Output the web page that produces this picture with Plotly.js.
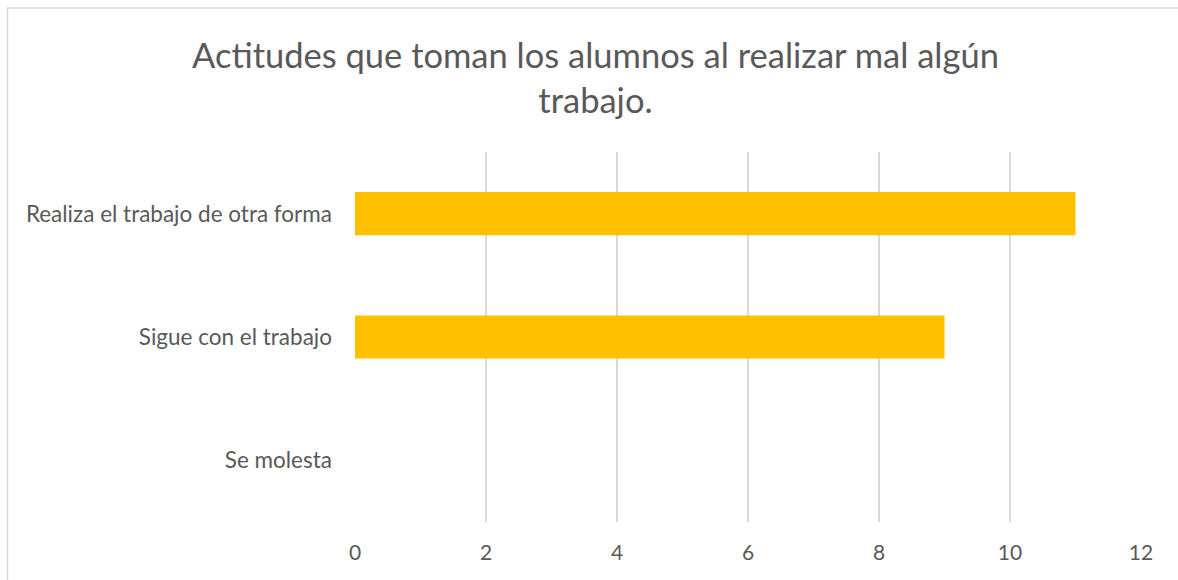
<!DOCTYPE html>
<html>
<head>
<meta charset="utf-8">
<script src="https://cdn.plot.ly/plotly-3.0.1.min.js"></script>
<style>
html,body{margin:0;padding:0;background:#fff;}
#chart{width:1178px;height:580px;}
</style>
</head>
<body>
<div id="chart"></div>
<script>
var categories = ["Se molesta", "Sigue con el trabajo", "Realiza el trabajo de otra forma"];
var values = [0, 9, 11];
var xTicks = [0, 2, 4, 6, 8, 10, 12];
var titleText = "Actitudes que toman los alumnos al realizar mal algún<br>trabajo.";

var trace = {
  type: "bar",
  orientation: "h",
  y: categories,
  x: values,
  marker: {color: "#FFC000"},
  hoverinfo: "x+y"
};

var layout = {
  width: 1178,
  height: 580,
  margin: {l: 355, r: 37, t: 152, b: 58},
  paper_bgcolor: "#ffffff",
  plot_bgcolor: "#ffffff",
  font: {family: "Lato, 'Open Sans', sans-serif", color: "#595959", size: 22},
  title: {
    text: titleText,
    font: {size: 34.5, color: "#595959", family: "Lato, 'Open Sans', sans-serif"},
    x: 0.5055, xref: "container", xanchor: "center",
    y: 0.882, yref: "container", yanchor: "top"
  },
  bargap: 0.65,
  xaxis: {
    range: [0, 12],
    tickvals: xTicks,
    ticktext: xTicks.map(String),
    showgrid: true,
    gridcolor: "#d9d9d9",
    gridwidth: 1.5,
    zeroline: false,
    showline: false,
    ticks: "",
    ticklen: 0,
    ticklabelstandoff: 16,
    tickfont: {size: 21, color: "#595959"},
    fixedrange: true
  },
  yaxis: {
    type: "category",
    categoryorder: "array",
    categoryarray: categories,
    showgrid: false,
    zeroline: false,
    showline: false,
    ticks: "",
    ticklabelstandoff: 22,
    tickfont: {size: 22.5, color: "#595959"},
    fixedrange: true
  },
  shapes: [{
    type: "rect",
    xref: "paper", yref: "paper",
    x0: -0.4421, x1: 2, y0: -2, y1: 1.389,
    line: {color: "#d9d9d9", width: 1.5},
    fillcolor: "rgba(0,0,0,0)",
    layer: "below"
  }],
  showlegend: false
};

Plotly.newPlot("chart", [trace], layout, {displayModeBar: false, staticPlot: false});
</script>
</body>
</html>
